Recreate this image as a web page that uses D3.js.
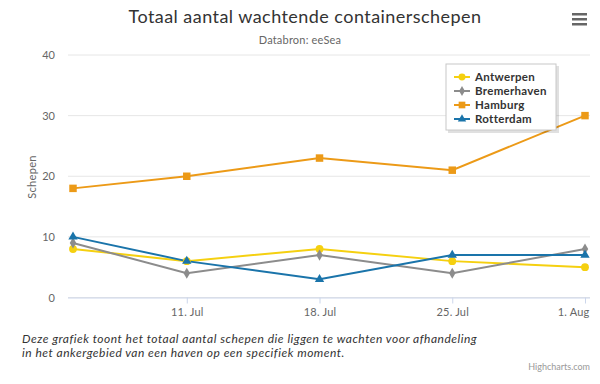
<!DOCTYPE html>
<html>
<head>
<meta charset="utf-8">
<script src="https://cdn.jsdelivr.net/npm/d3@7"></script>
<style>
  body { margin: 0; background: #fff; }
  svg { font-family: "Lato", "Open Sans", sans-serif; }
</style>
</head>
<body>
<svg id="chart" width="600" height="384"></svg>
<script>
const dates = ["2022-07-05", "2022-07-11", "2022-07-18", "2022-07-25", "2022-08-01"];
const tickDates = ["2022-07-11", "2022-07-18", "2022-07-25", "2022-08-01"];
const yTicks = [0, 10, 20, 30, 40];
const seriesNames = ["Antwerpen", "Bremerhaven", "Hamburg", "Rotterdam"];
const antwerpen = [8, 6, 8, 6, 5];
const bremerhaven = [9, 4, 7, 4, 8];
const hamburg = [18, 20, 23, 21, 30];
const rotterdam = [10, 6, 3, 7, 7];

const colors = ["#f5d010", "#8c8c8c", "#ec9a17", "#1a74aa"];
const symbols = [d3.symbolCircle, d3.symbolDiamond, d3.symbolSquare, d3.symbolTriangle];
const symSizes = [48, 36, 56, 38];

const parse = d3.timeParse("%Y-%m-%d");
const series = [antwerpen, bremerhaven, hamburg, rotterdam].map((vals, i) => ({
  name: seriesNames[i],
  color: colors[i],
  symbol: symbols[i],
  size: symSizes[i],
  values: vals.map((v, j) => ({ date: parse(dates[j]), value: v }))
}));

const svg = d3.select("#chart");

const x = d3.scaleTime()
  .domain([parse(dates[0]), parse(dates[dates.length - 1])])
  .range([73, 585]);
const y = d3.scaleLinear().domain([0, 40]).range([297.5, 55]);

// title + subtitle
svg.append("text").attr("x", 305).attr("y", 23).attr("text-anchor", "middle")
  .attr("font-size", 18).attr("letter-spacing", 0.45).attr("fill", "#333")
  .text("Totaal aantal wachtende containerschepen");
svg.append("text").attr("x", 300).attr("y", 44).attr("text-anchor", "middle")
  .attr("font-size", 11).attr("letter-spacing", 0.2).attr("fill", "#666").text("Databron: eeSea");

// menu icon
[0, 1, 2].forEach(i => {
  svg.append("rect").attr("x", 572).attr("y", 13 + i * 5).attr("width", 15).attr("height", 2.5)
    .attr("fill", "#666");
});

// y grid
svg.append("g").selectAll("line").data(yTicks).enter().append("line")
  .attr("x1", 68).attr("x2", 590)
  .attr("y1", d => y(d)).attr("y2", d => y(d))
  .attr("stroke", "#e6e6e6").attr("stroke-width", 1);

svg.append("g").selectAll("text").data(yTicks).enter().append("text")
  .attr("x", 55).attr("y", d => y(d) + 4).attr("text-anchor", "end")
  .attr("font-size", 11).attr("fill", "#666").text(d => d);

svg.append("text").attr("transform", "translate(36,177) rotate(-90)")
  .attr("text-anchor", "middle").attr("font-size", 11).attr("letter-spacing", 0.3)
  .attr("fill", "#666").text("Schepen");

// x axis
const xAxis = d3.axisBottom(x)
  .tickValues(tickDates.map(parse))
  .tickFormat(d3.timeFormat("%-d. %b"))
  .tickSize(6);
const gx = svg.append("g").attr("transform", `translate(0,${y(0)})`).call(xAxis);
gx.select(".domain").attr("d", "M68,0.5H590").attr("stroke", "#ccd6eb");
gx.selectAll(".tick line").attr("stroke", "#ccd6eb");
gx.selectAll(".tick text").attr("font-size", 11).attr("fill", "#666")
  .attr("font-family", "Lato, 'Open Sans', sans-serif").attr("dy", "0.9em")
  .attr("letter-spacing", 0.2);
// keep the last label inside the chart, like Highcharts does
gx.selectAll(".tick text").filter((d, i, n) => i === n.length - 1)
  .attr("text-anchor", "end").attr("x", 4);

// lines
const line = d3.line().x(d => x(d.date)).y(d => y(d.value));
series.forEach(s => {
  svg.append("path").datum(s.values).attr("d", line)
    .attr("fill", "none").attr("stroke", s.color).attr("stroke-width", 2);
});
series.forEach(s => {
  svg.append("g").selectAll("path").data(s.values).enter().append("path")
    .attr("transform", d => `translate(${x(d.date)},${y(d.value)})`)
    .attr("d", d3.symbol().type(s.symbol).size(s.size))
    .attr("fill", s.color);
});

// legend
const lg = svg.append("g").attr("transform", "translate(446,64)");
lg.append("rect").attr("x", 2).attr("y", 2).attr("width", 111).attr("height", 67)
  .attr("fill", "rgba(0,0,0,0.12)");
lg.append("rect").attr("width", 110).attr("height", 66).attr("fill", "#fff")
  .attr("stroke", "#c8c8c8");
series.forEach((s, i) => {
  const row = lg.append("g").attr("transform", `translate(8,${13 + i * 14})`);
  row.append("line").attr("x1", 0).attr("x2", 16).attr("stroke", s.color).attr("stroke-width", 2);
  row.append("path").attr("transform", "translate(8,0)")
    .attr("d", d3.symbol().type(s.symbol).size(s.size * 0.8)).attr("fill", s.color);
  row.append("text").attr("x", 21).attr("y", 4).attr("font-size", 11.5).attr("font-weight", "bold")
    .attr("letter-spacing", 0.3).attr("fill", "#333").text(s.name);
});

// caption
const cap = svg.append("text").attr("font-size", 12).attr("font-style", "italic")
  .attr("letter-spacing", 0.5).attr("fill", "#333");
cap.append("tspan").attr("x", 22).attr("y", 343)
  .text("Deze grafiek toont het totaal aantal schepen die liggen te wachten voor afhandeling");
cap.append("tspan").attr("x", 22).attr("y", 357)
  .text("in het ankergebied van een haven op een specifiek moment.");

svg.append("text").attr("x", 590).attr("y", 370).attr("text-anchor", "end")
  .attr("font-size", 9).attr("fill", "#999").text("Highcharts.com");
</script>
</body>
</html>
